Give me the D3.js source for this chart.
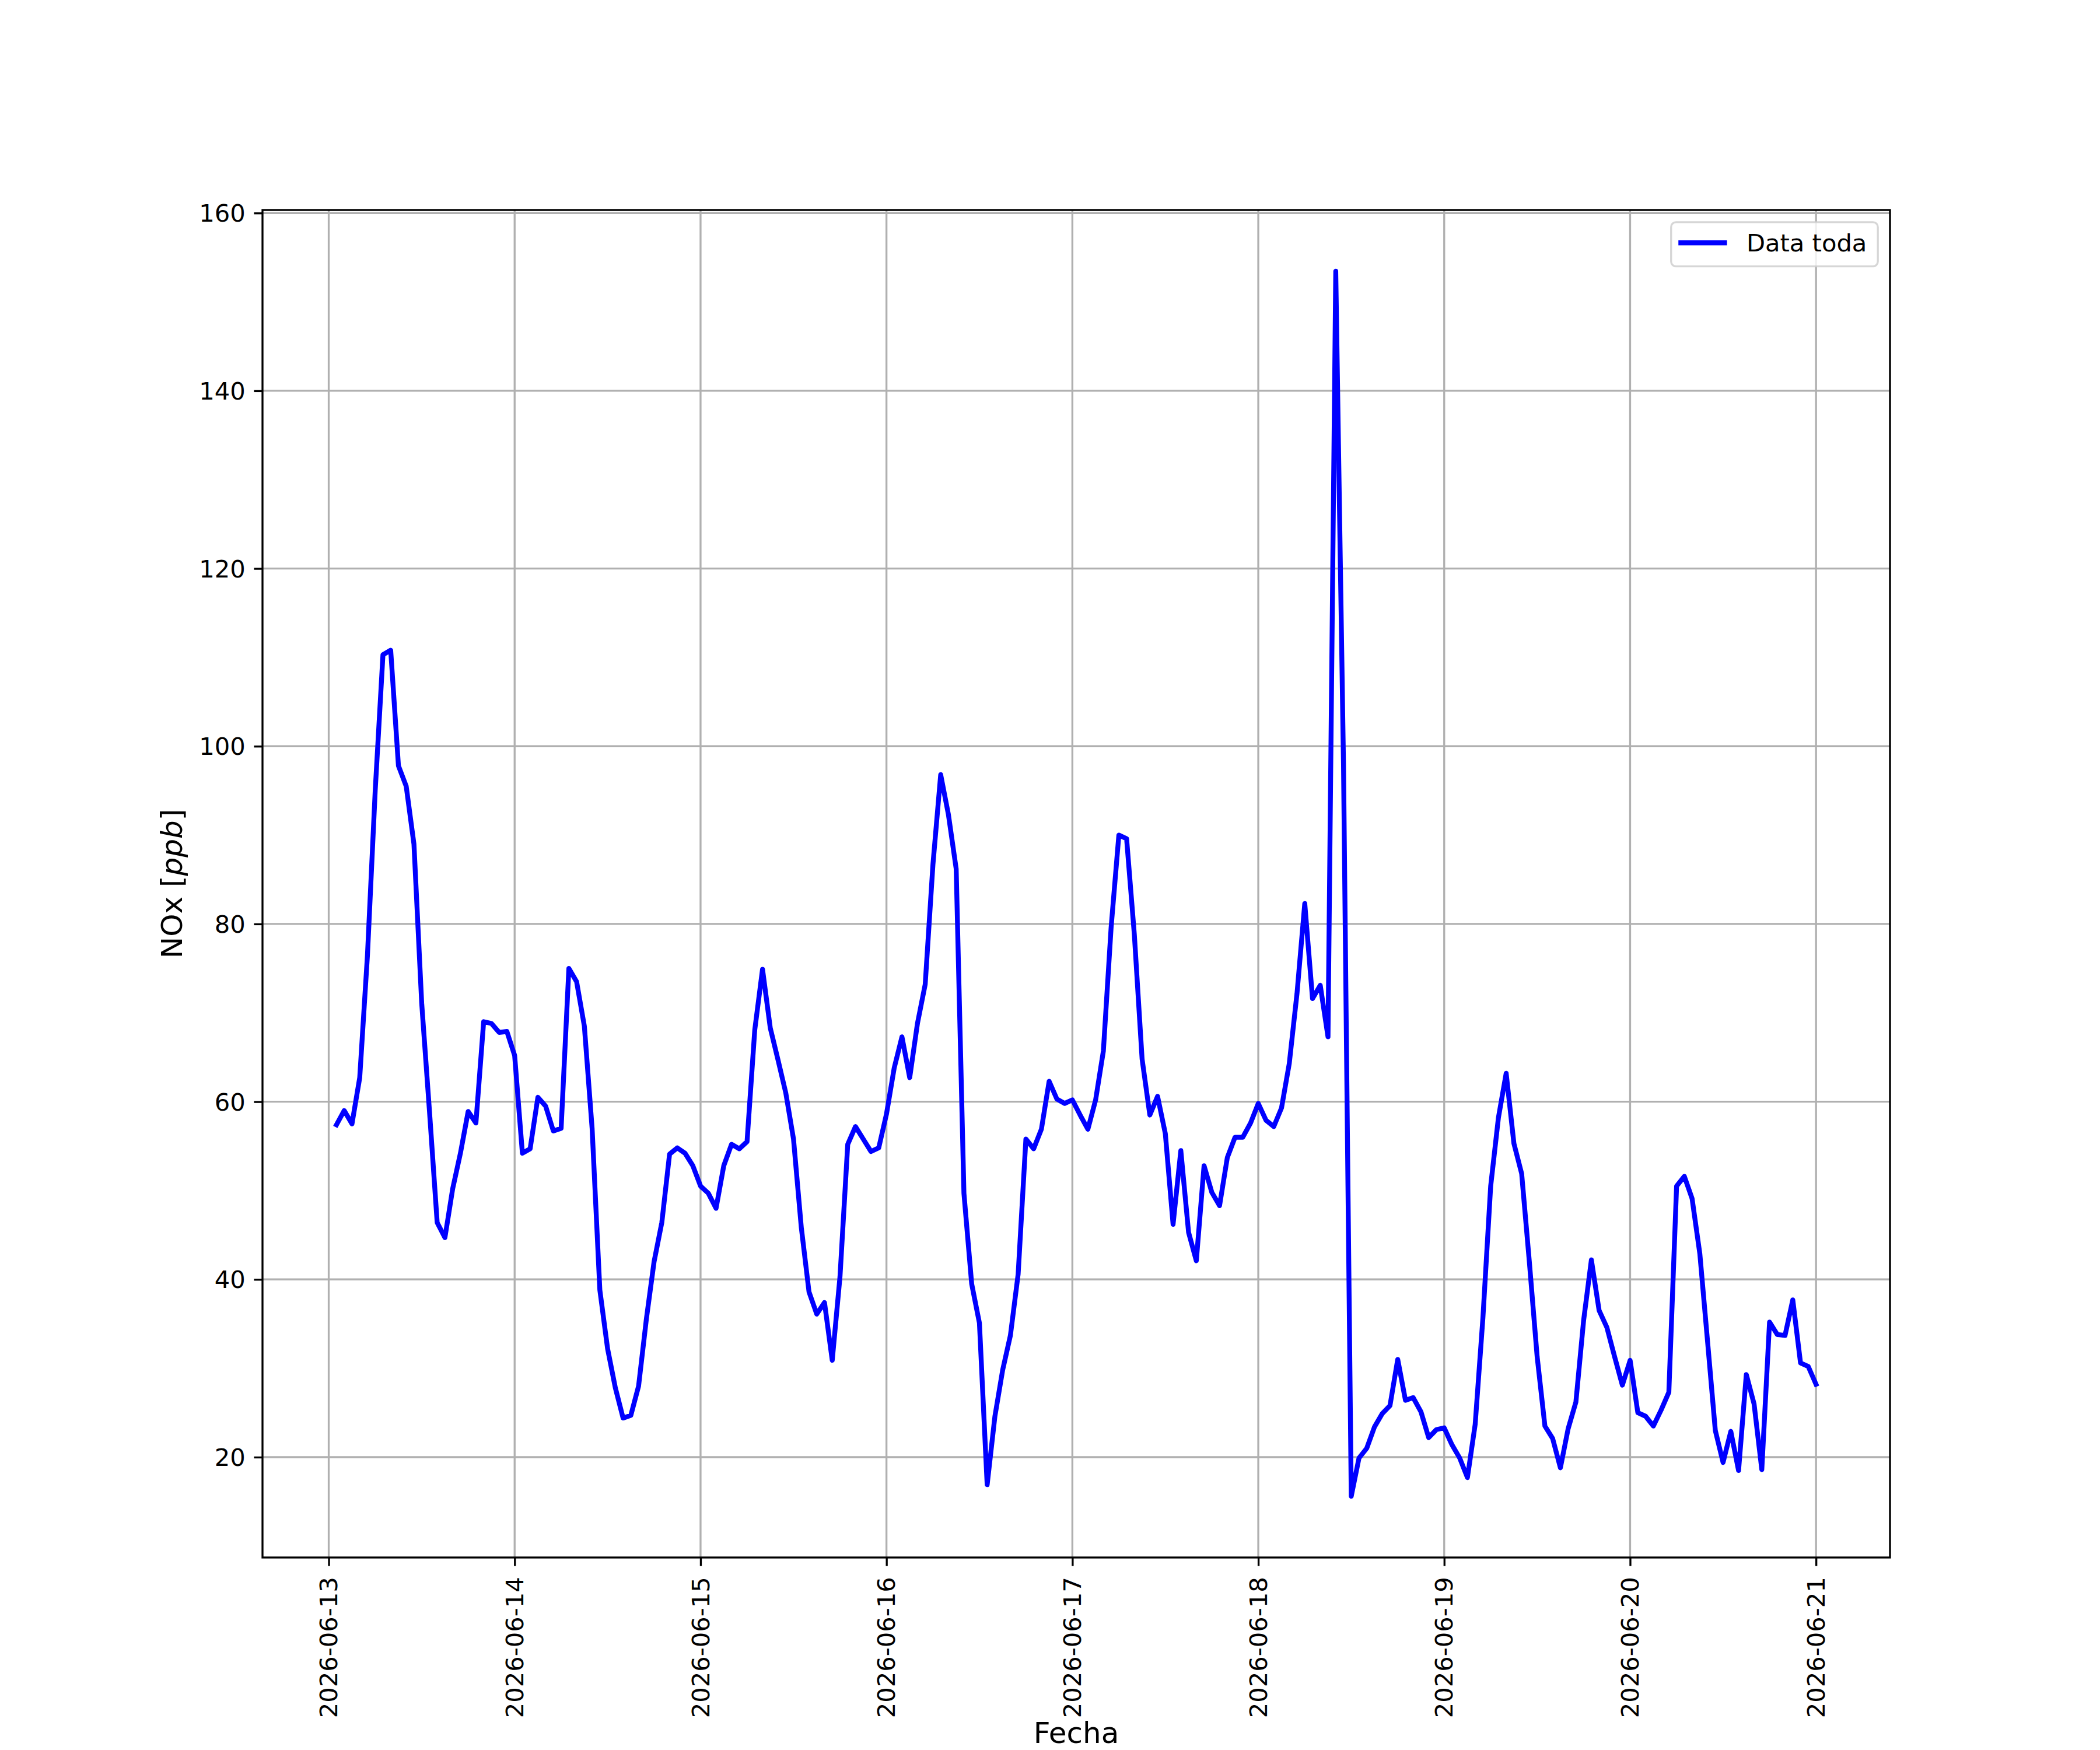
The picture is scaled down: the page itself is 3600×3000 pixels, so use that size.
<!DOCTYPE html>
<html>
<head>
<meta charset="utf-8">
<script src="https://cdn.jsdelivr.net/npm/d3@7"></script>
<style>
  body { margin: 0; background: #fff; overflow: hidden; }
</style>
</head>
<body>
<div id="chart"></div>
<script>
// Hourly NOx [ppb]; each array runs from 01:00 of that day to 00:00 of the next
const noxJun13 = [57.4, 59.0, 57.5, 62.7, 76.5, 95.0, 110.3, 110.8, 97.8, 95.5, 89.0, 71.1,
                  59.0, 46.4, 44.7, 50.2, 54.2, 58.9, 57.6, 69.0, 68.8, 67.8, 67.9, 65.2];
const noxJun14 = [54.2, 54.7, 60.5, 59.5, 56.7, 57.0, 75.0, 73.5, 68.5, 57.0, 38.8, 32.2,
                  27.8, 24.4, 24.7, 28.0, 35.5, 42.0, 46.4, 54.1, 54.8, 54.2, 52.8, 50.5];
const noxJun15 = [49.7, 48.0, 52.8, 55.2, 54.7, 55.5, 68.1, 74.9, 68.3, 64.7, 61.0, 55.8,
                  45.9, 38.6, 36.1, 37.4, 30.9, 40.3, 55.2, 57.2, 55.8, 54.4, 54.8, 58.6];
const noxJun16 = [63.8, 67.3, 62.7, 68.8, 73.2, 86.7, 96.8, 92.3, 86.2, 49.7, 39.5, 35.1,
                  16.9, 24.6, 29.8, 33.7, 40.6, 55.8, 54.7, 56.9, 62.3, 60.3, 59.8, 60.2];
const noxJun17 = [58.5, 56.9, 60.2, 65.7, 79.6, 90.0, 89.6, 78.8, 64.8, 58.5, 60.6, 56.4,
                  46.2, 54.5, 45.3, 42.1, 52.8, 49.8, 48.3, 53.7, 56.0, 56.0, 57.6, 59.8];
const noxJun18 = [57.9, 57.2, 59.3, 64.3, 72.2, 82.3, 71.6, 73.1, 67.3, 153.45, 98.0, 15.6,
                  19.9, 21.0, 23.4, 24.9, 25.8, 31.0, 26.4, 26.7, 25.1, 22.2, 23.1, 23.3];
const noxJun19 = [21.4, 19.9, 17.7, 23.7, 35.7, 50.5, 58.2, 63.2, 55.3, 51.9, 41.9, 31.3,
                  23.5, 22.1, 18.8, 23.2, 26.2, 35.4, 42.2, 36.5, 34.6, 31.3, 28.1, 30.9];
const noxJun20 = [25.0, 24.6, 23.5, 25.3, 27.3, 50.5, 51.6, 49.1, 42.9, 33.0, 23.0, 19.4,
                  22.9, 18.5, 29.3, 26.0, 18.6, 35.2, 33.8, 33.7, 37.7, 30.6, 30.2, 28.2];

const firstHour = "2026-06-13T01:00:00Z";
const seriesName = "Data toda";
const xTickLabels = ["2026-06-13", "2026-06-14", "2026-06-15", "2026-06-16", "2026-06-17",
                     "2026-06-18", "2026-06-19", "2026-06-20", "2026-06-21"];
const yTickLabels = [20, 40, 60, 80, 100, 120, 140, 160];
const xLabel = "Fecha";

const values = [].concat(noxJun13, noxJun14, noxJun15, noxJun16,
                         noxJun17, noxJun18, noxJun19, noxJun20);
const t0 = new Date(firstHour);
const data = values.map((v, i) => ({ t: d3.utcHour.offset(t0, i), v: v }));

// figure 12x10 in at 300 dpi, default matplotlib subplot box
const width = 3600, height = 3000;
const pt = 300 / 72;
const fs = 10 * pt;
const plot = { left: 450, right: 3240, top: 360, bottom: 2670 };

const svg = d3.select("#chart").append("svg")
    .attr("width", width)
    .attr("height", height)
    .style("font-family", "'DejaVu Sans', sans-serif");

svg.append("rect").attr("width", width).attr("height", height).attr("fill", "#fff");

// scales with 5% margins like matplotlib autoscale
const tExt = d3.extent(data, d => d.t);
const tPad = (tExt[1] - tExt[0]) * 0.05;
const x = d3.scaleUtc()
    .domain([new Date(+tExt[0] - tPad), new Date(+tExt[1] + tPad)])
    .range([plot.left, plot.right]);

const vExt = d3.extent(values);
const vPad = (vExt[1] - vExt[0]) * 0.05;
const y = d3.scaleLinear()
    .domain([vExt[0] - vPad, vExt[1] + vPad])
    .range([plot.bottom, plot.top]);

const xTicks = xTickLabels.map(s => new Date(s + "T00:00:00Z"));

// grid
const grid = svg.append("g")
    .attr("stroke", "#b0b0b0")
    .attr("stroke-width", 0.8 * pt);

grid.selectAll("line.gx")
    .data(xTicks)
    .join("line")
    .attr("class", "gx")
    .attr("x1", d => x(d)).attr("x2", d => x(d))
    .attr("y1", plot.top).attr("y2", plot.bottom);

grid.selectAll("line.gy")
    .data(yTickLabels)
    .join("line")
    .attr("class", "gy")
    .attr("x1", plot.left).attr("x2", plot.right)
    .attr("y1", d => y(d)).attr("y2", d => y(d));

// data line
const line = d3.line().x(d => x(d.t)).y(d => y(d.v));

svg.append("path")
    .datum(data)
    .attr("fill", "none")
    .attr("stroke", "#0000ff")
    .attr("stroke-width", 2 * pt)
    .attr("stroke-linejoin", "round")
    .attr("stroke-linecap", "square")
    .attr("d", line);

// x axis
const xAxis = svg.append("g")
    .attr("transform", `translate(0,${plot.bottom})`)
    .call(d3.axisBottom(x)
        .tickValues(xTicks)
        .tickFormat(d3.utcFormat("%Y-%m-%d"))
        .tickSize(3.5 * pt)
        .tickPadding(3.5 * pt));

xAxis.attr("font-family", "'DejaVu Sans', sans-serif").attr("font-size", fs);
xAxis.select(".domain").remove();
xAxis.selectAll(".tick line").attr("stroke", "#000").attr("stroke-width", 0.8 * pt);
xAxis.selectAll(".tick text")
    .attr("fill", "#000")
    .attr("transform", "rotate(-90)")
    .attr("text-anchor", "end")
    .attr("x", -(7 * pt + 4))
    .attr("y", 0)
    .attr("dy", "0.34em");

// y axis
const yAxis = svg.append("g")
    .attr("transform", `translate(${plot.left},0)`)
    .call(d3.axisLeft(y)
        .tickValues(yTickLabels)
        .tickSize(3.5 * pt)
        .tickPadding(3.5 * pt));

yAxis.attr("font-family", "'DejaVu Sans', sans-serif").attr("font-size", fs);
yAxis.select(".domain").remove();
yAxis.selectAll(".tick line").attr("stroke", "#000").attr("stroke-width", 0.8 * pt);
yAxis.selectAll(".tick text").attr("fill", "#000").attr("dy", "0.35em");

// spines
svg.append("rect")
    .attr("x", plot.left).attr("y", plot.top)
    .attr("width", plot.right - plot.left)
    .attr("height", plot.bottom - plot.top)
    .attr("fill", "none")
    .attr("stroke", "#000")
    .attr("stroke-width", 0.8 * pt);

// axis labels
svg.append("text")
    .attr("x", (plot.left + plot.right) / 2)
    .attr("y", 2988)
    .attr("text-anchor", "middle")
    .attr("font-size", 12 * pt)
    .attr("fill", "#000")
    .text(xLabel);

const yLab = svg.append("text")
    .attr("transform", `translate(312,${(plot.top + plot.bottom) / 2}) rotate(-90)`)
    .attr("text-anchor", "middle")
    .attr("font-size", 12 * pt)
    .attr("fill", "#000");
yLab.append("tspan").text("NOx [");
yLab.append("tspan").attr("font-style", "italic").text("ppb");
yLab.append("tspan").text("]");

// legend, upper right
const legend = svg.append("g");
const legFrame = legend.append("rect");
const legText = legend.append("text")
    .attr("font-size", fs)
    .attr("fill", "#000")
    .text(seriesName);
const textW = legText.node().getComputedTextLength();
const padL = 12.5, padR = 0.45 * fs;
const boxW = padL + padR + 2 * fs + 0.8 * fs + textW;
const boxH = 1.82 * fs;
const bx = plot.right - 0.5 * fs - boxW;
const by = plot.top + 0.5 * fs;

legFrame
    .attr("x", bx).attr("y", by)
    .attr("width", boxW).attr("height", boxH)
    .attr("rx", 0.2 * fs).attr("ry", 0.2 * fs)
    .attr("fill", "#fff").attr("fill-opacity", 0.8)
    .attr("stroke", "#cccccc").attr("stroke-opacity", 0.8)
    .attr("stroke-width", 0.8 * pt);

legend.append("line")
    .attr("x1", bx + padL).attr("x2", bx + padL + 2 * fs)
    .attr("y1", by + 0.85 * fs).attr("y2", by + 0.85 * fs)
    .attr("stroke", "#0000ff")
    .attr("stroke-width", 2 * pt);

legText
    .attr("x", bx + padL + 2.8 * fs)
    .attr("y", by + 1.2 * fs)
    .raise();
</script>
</body>
</html>
